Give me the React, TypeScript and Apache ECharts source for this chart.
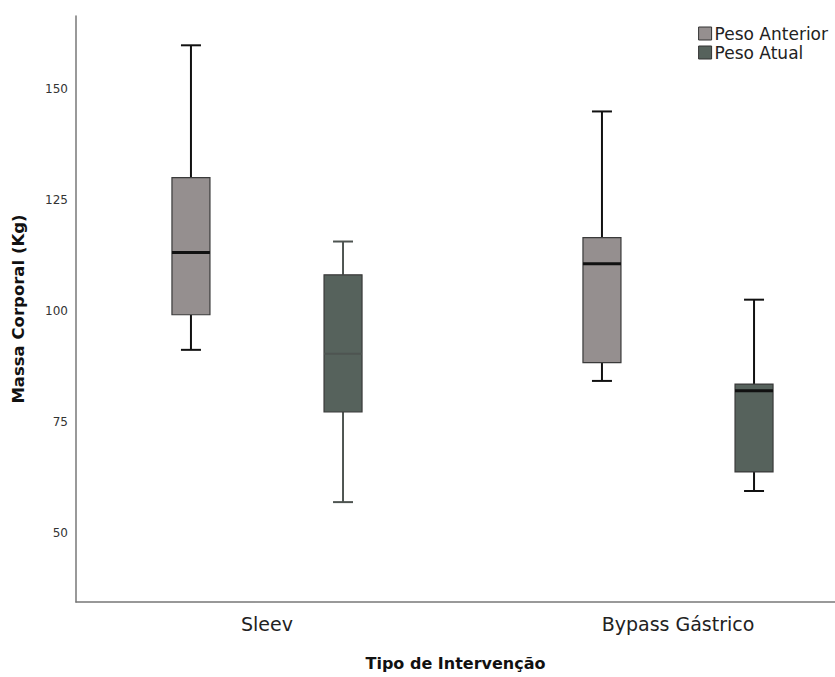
import React, { useEffect, useRef } from "react";
import * as echarts from "echarts";

// Groups on the x axis and their positions on the value axis
const groups = ["Sleev", "Bypass Gástrico"];
const groupPos = [1, 2];
const seriesNames = ["Peso Anterior", "Peso Atual"];
// Offset of each series' box from its group centre (x-axis units)
const seriesOffset = [-0.185, 0.185];

// [min, Q1, median, Q3, max] per group
const pesoAnterior = [
  [91.3, 99.2, 113.2, 130.1, 159.9],
  [84.3, 88.4, 110.7, 116.6, 145.0],
];
const pesoAtual = [
  [57.0, 77.3, 90.4, 108.2, 115.7],
  [59.5, 63.8, 82.1, 83.6, 102.6],
];

const yTicks = [50, 75, 100, 125, 150];

const FILLS = ["#958f8f", "#56625c"];
// line colour per [series][group]
const LINE_COLORS = [
  ["#111111", "#111111"],
  ["#4e5451", "#111111"],
];
const MEDIAN_W = [
  [3, 3],
  [2, 3],
];

const FONT = "DejaVu Sans";

export default function App() {
  const ref = useRef<HTMLDivElement>(null);
  useEffect(() => {
    document.body.style.margin = "0";
    if (!ref.current) return;
    const chart = echarts.init(ref.current, null, { renderer: "svg" });

    const makeSeries = (si: number, values: number[][]) => ({
      name: seriesNames[si],
      type: "custom",
      xAxisIndex: 0,
      yAxisIndex: 0,
      itemStyle: { color: FILLS[si], borderColor: "#333", borderWidth: 1 },
      encode: { x: 0, y: [1, 2, 3, 4, 5] },
      data: values.map((v, gi) => [groupPos[gi] + seriesOffset[si], ...v, gi]),
      renderItem: (params: any, api: any) => {
        const x = api.value(0);
        const gi = api.value(6);
        const pMin = api.coord([x, api.value(1)]);
        const pQ1 = api.coord([x, api.value(2)]);
        const pMed = api.coord([x, api.value(3)]);
        const pQ3 = api.coord([x, api.value(4)]);
        const pMax = api.coord([x, api.value(5)]);
        const cx = pMin[0];
        const half = 19;
        const cap = 10;
        const lc = LINE_COLORS[si][gi];
        const lineStyle = { stroke: lc, lineWidth: 2 };
        return {
          type: "group",
          children: [
            { type: "line", shape: { x1: cx, y1: pMax[1], x2: cx, y2: pQ3[1] }, style: lineStyle },
            { type: "line", shape: { x1: cx, y1: pQ1[1], x2: cx, y2: pMin[1] }, style: lineStyle },
            { type: "line", shape: { x1: cx - cap, y1: pMax[1], x2: cx + cap, y2: pMax[1] }, style: lineStyle },
            { type: "line", shape: { x1: cx - cap, y1: pMin[1], x2: cx + cap, y2: pMin[1] }, style: lineStyle },
            {
              type: "rect",
              shape: { x: cx - half, y: pQ3[1], width: half * 2, height: pQ1[1] - pQ3[1] },
              style: { fill: FILLS[si], stroke: "#3a3a3a", lineWidth: 1.2 },
            },
            {
              type: "line",
              shape: { x1: cx - half, y1: pMed[1], x2: cx + half, y2: pMed[1] },
              style: { stroke: lc, lineWidth: MEDIAN_W[si][gi] },
            },
          ],
        };
      },
    });

    chart.setOption({
      animation: false,
      textStyle: { fontFamily: FONT },
      grid: { left: 76, right: 0, top: 16, bottom: 75 },
      legend: {
        orient: "vertical",
        right: 2,
        top: 20,
        icon: "rect",
        itemWidth: 13,
        itemHeight: 13,
        itemGap: 2,
        textStyle: { fontFamily: FONT, fontSize: 17, color: "#222", padding: [0, 0, 0, -2] },
        data: seriesNames.map((n, i) => ({
          name: n,
          itemStyle: { color: FILLS[i], borderColor: "#333", borderWidth: 1 },
        })),
      },
      xAxis: {
        type: "value",
        min: 0.5353,
        max: 2.382,
        splitLine: { show: false },
        axisTick: { show: false },
        axisLine: { show: true, lineStyle: { color: "#777", width: 1.5 } },
        axisLabel: {
          customValues: groupPos,
          formatter: (v: number) => groups[Math.round(v) - 1] ?? "",
          fontFamily: FONT,
          fontSize: 19,
          color: "#222",
          margin: 12,
        },
        name: "Tipo de Intervenção",
        nameLocation: "middle",
        nameGap: 53,
        nameTextStyle: { fontFamily: FONT, fontSize: 16, fontWeight: "bold", color: "#111" },
      },
      yAxis: {
        type: "value",
        min: 34.5,
        max: 166.5,
        splitLine: { show: false },
        axisTick: { show: false },
        axisLine: { show: true, lineStyle: { color: "#777", width: 1.5 } },
        axisLabel: {
          customValues: yTicks,
          fontFamily: FONT,
          fontSize: 12,
          color: "#333",
          margin: 8,
        },
        name: "Massa Corporal (Kg)",
        nameLocation: "middle",
        nameGap: 49,
        nameTextStyle: { fontFamily: FONT, fontSize: 16.5, fontWeight: "bold", color: "#111" },
      },
      series: [makeSeries(0, pesoAnterior), makeSeries(1, pesoAtual)],
    });

    return () => chart.dispose();
  }, []);

  return <div ref={ref} style={{ width: 835, height: 677 }} />;
}
